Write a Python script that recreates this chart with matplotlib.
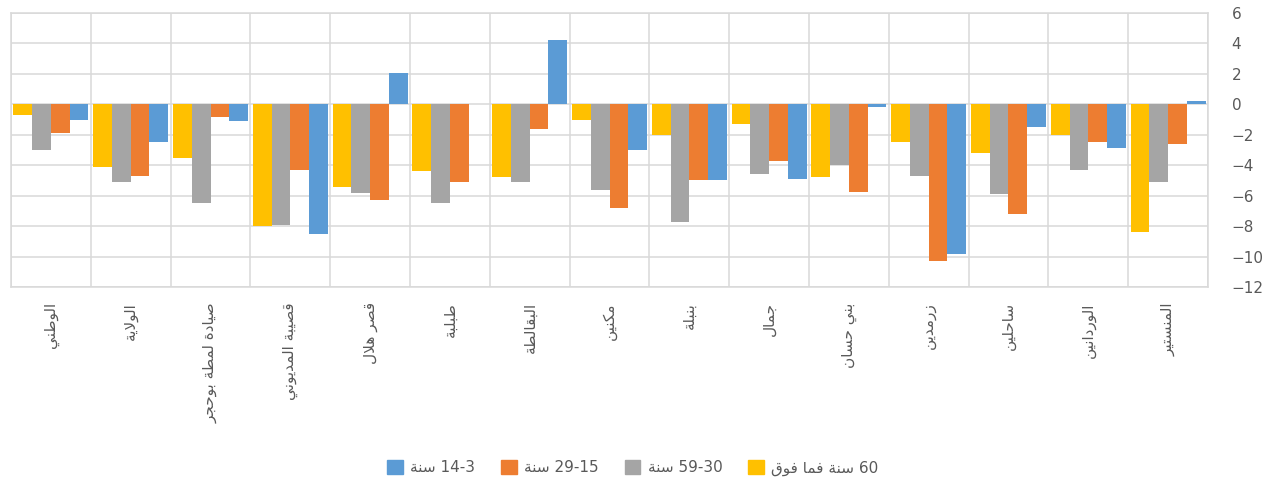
import re
import numpy as np
import matplotlib
matplotlib.use("Agg")
import matplotlib.pyplot as plt
from matplotlib.patches import Patch

# Data (categories in on-screen left-to-right order)
categories = ['الوطني', 'الولاية', 'صيادة لمطة بوحجر', 'قصيبة المديوني', 'قصر هلال',
              'طبلبة', 'البقالطة', 'مكنين', 'بنبلة', 'جمال', 'بني حسان', 'زرمدين',
              'ساحلين', 'الوردانين', 'المنستير']

age_60_plus = [-0.7, -4.1, -3.5, -8.0, -5.4, -4.4, -4.8, -1.0, -2.0, -1.3, -4.8, -2.5, -3.2, -2.0, -8.4]
age_30_59 = [-3.0, -5.1, -6.5, -7.9, -5.8, -6.5, -5.1, -5.6, -7.7, -4.6, -4.0, -4.7, -5.9, -4.3, -5.1]
age_15_29 = [-1.9, -4.7, -0.8, -4.3, -6.3, -5.1, -1.6, -6.8, -5.0, -3.7, -5.75, -10.3, -7.2, -2.5, -2.6]
age_3_14 = [-1.0, -2.5, -1.1, -8.5, 2.05, 0.05, 4.25, -3.0, -5.0, -4.9, -0.2, -9.8, -1.5, -2.9, 0.25]

series_labels = ['60 سنة فما فوق', '30-59 سنة', '15-29 سنة', '3-14 سنة']
series_colors = ['#FFC000', '#A5A5A5', '#ED7D31', '#5B9BD5']

yticks = [-12, -10, -8, -6, -4, -2, 0, 2, 4, 6]


# matplotlib has no Arabic shaping, so build presentation forms by hand
DUAL = {'ب': 0xFE8F, 'ت': 0xFE95, 'ج': 0xFE9D, 'ح': 0xFEA1, 'س': 0xFEB1, 'ص': 0xFEB9,
        'ط': 0xFEC1, 'ف': 0xFED1, 'ق': 0xFED5, 'ك': 0xFED9, 'ل': 0xFEDD, 'م': 0xFEE1,
        'ن': 0xFEE5, 'ه': 0xFEE9, 'ي': 0xFEF1}
RIGHT = {'ا': 0xFE8D, 'ة': 0xFE93, 'د': 0xFEA9, 'ر': 0xFEAD, 'ز': 0xFEAF, 'و': 0xFEED}


def shape(text):
    toks = []
    i = 0
    while i < len(text):
        if text[i] == 'ل' and i + 1 < len(text) and text[i + 1] == 'ا':
            toks.append('LA')
            i += 2
        else:
            toks.append(text[i])
            i += 1
    arabic = set(DUAL) | set(RIGHT) | {'LA'}
    out = []
    for k, t in enumerate(toks):
        prev = toks[k - 1] if k > 0 else None
        nxt = toks[k + 1] if k + 1 < len(toks) else None
        jp = t in arabic and prev in DUAL
        if t == 'LA':
            out.append(chr(0xFEFC if jp else 0xFEFB))
        elif t in RIGHT:
            out.append(chr(RIGHT[t] + (1 if jp else 0)))
        elif t in DUAL:
            jn = nxt in arabic
            form = 3 if (jp and jn) else 1 if jp else 2 if jn else 0
            out.append(chr(DUAL[t] + form))
        else:
            out.append(t)
    # right-to-left display: reverse, but keep digit runs in reading order
    vis = ''.join(out)[::-1]
    return re.sub(r'\d+', lambda m: m.group()[::-1], vis)


plt.rcParams['font.family'] = ['DejaVu Sans']
text_color = '#595959'
grid_color = '#D9D9D9'

fig = plt.figure(figsize=(12.63, 4.83), dpi=100)
ax = fig.add_axes([11 / 1263, 1 - 287 / 483, (1208 - 11) / 1263, (287 - 13) / 483])

x = np.arange(len(categories))
w = 0.235
all_series = [age_60_plus, age_30_59, age_15_29, age_3_14]
for j, (vals, col) in enumerate(zip(all_series, series_colors)):
    ax.bar(x + (j - 1.5) * w, vals, w, color=col, zorder=3, linewidth=0)

ax.set_xlim(-0.5, len(categories) - 0.5)
ax.set_ylim(-12, 6)
ax.set_yticks(yticks)
ax.yaxis.tick_right()
ax.tick_params(axis='y', length=0, pad=17, labelsize=11, labelcolor=text_color)
for lab in ax.get_yticklabels():
    lab.set_horizontalalignment('left')

ax.set_xticks(x)
ax.set_xticklabels([shape(c) for c in categories], rotation=90, fontsize=11, color=text_color)
ax.set_xticks(np.arange(-0.5, len(categories)), minor=True)
ax.tick_params(axis='x', which='both', length=0, pad=11)

ax.grid(True, axis='y', color=grid_color, lw=1.1, zorder=0)
ax.grid(True, axis='x', which='minor', color=grid_color, lw=1.1, zorder=0)
for s in ax.spines.values():
    s.set_color(grid_color)
    s.set_linewidth(1.1)

# legend, left to right: blue, orange, gray, yellow
handles = [Patch(color=series_colors[j]) for j in [3, 2, 1, 0]]
labels = [shape(series_labels[j]) for j in [3, 2, 1, 0]]
fig.legend(handles, labels, loc='center', bbox_to_anchor=(633 / 1263, 1 - 468 / 483), ncol=4,
           frameon=False, fontsize=11, handlelength=1.0, handleheight=1.0,
           handletextpad=0.5, columnspacing=1.7, labelcolor=text_color)

fig.savefig('out.png', dpi=100)
